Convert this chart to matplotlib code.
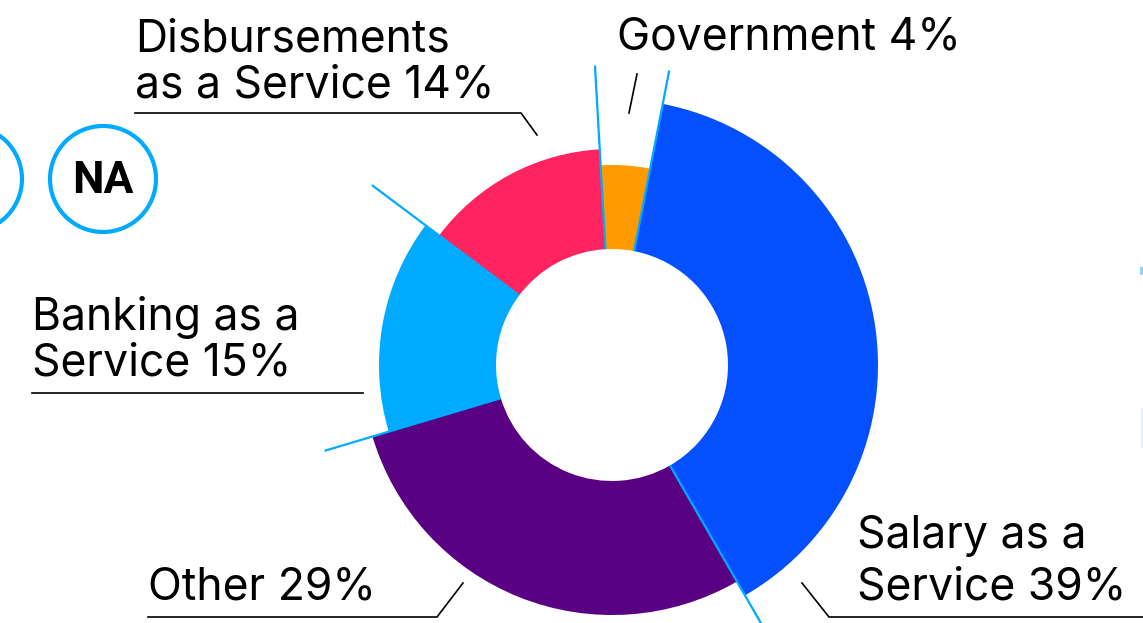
import numpy as np
import matplotlib
matplotlib.use("Agg")
import matplotlib.pyplot as plt
from matplotlib.patches import Circle, Rectangle

# ---- data ----
categories = ["Salary as a Service", "Other", "Banking as a Service",
              "Disbursements as a Service", "Government"]
shares = [39, 29, 15, 14, 4]
labels = ["Salary as a\nService 39%", "Other 29%", "Banking as a\nService 15%",
          "Disbursements\nas a Service 14%", "Government 4%"]
colors = ["#0450FF", "#5A0082", "#00AAFF", "#FF2360", "#FF9A00"]

# ---- layout ----
W, H = 1143, 623
fig = plt.figure(figsize=(W / 100, H / 100), dpi=100)
ax = fig.add_axes([0, 0, 1, 1])
cx, cy = 612, 365
r_inner = 116
r_outer = [266, 250, 233, 216, 200]
start = -79  # screen: 11 deg clockwise from top (y axis inverted)

wedges, _ = ax.pie(shares, colors=colors, center=(cx, cy), radius=1,
                   startangle=start, counterclock=True,
                   wedgeprops=dict(width=0.5, linewidth=0))
for w, r in zip(wedges, r_outer):
    w.set_radius(r)
    w.set_width(r - r_inner)

# separator rays along each boundary
total = sum(shares)
bounds = start + np.cumsum([0] + shares[:-1]) * 360.0 / total
for th in np.deg2rad(bounds):
    ax.plot([cx + r_inner * np.cos(th), cx + 300 * np.cos(th)],
            [cy + r_inner * np.sin(th), cy + 300 * np.sin(th)],
            color="#00AAFF", lw=1.6, solid_capstyle="butt", zorder=5)

ax.set_xlim(0, W)
ax.set_ylim(H, 0)
ax.set_aspect("equal")
ax.axis("off")

font = "Inter"
fs = 32
tk = dict(fontsize=fs, family=font, color="black", va="baseline", ha="left")
# labels
ax.text(857, 548, labels[0].split("\n")[0], **tk)
ax.text(857, 600, labels[0].split("\n")[1], **tk)
ax.text(148, 600, labels[1], **tk)
ax.text(32, 330, labels[2].split("\n")[0], **tk)
ax.text(32, 376, labels[2].split("\n")[1], **tk)
ax.text(135, 52, labels[3].split("\n")[0], **tk)
ax.text(135, 97, labels[3].split("\n")[1], **tk)
ax.text(617, 50, labels[4], **tk)

lk = dict(color="black", lw=1.2, solid_joinstyle="miter")
ax.plot([802, 829, W], [583, 617, 617], **lk)
ax.plot([148, 437, 463], [617, 617, 583], **lk)
ax.plot([32, 363], [393, 393], **lk)
ax.plot([135, 521, 537], [113, 113, 135], **lk)
ax.plot([637, 629], [74, 113], **lk)

# NA badges
for x0 in (-31, 103):
    ax.add_patch(Circle((x0, 179), 53, fill=False, ec="#00AAFF", lw=3.0))
ax.text(103, 181, "NA", fontsize=32, family="Roboto", weight="bold",
        ha="center", va="center", color="black")

# cropped fragments at right edge
ax.add_patch(Rectangle((1140, 267), 3, 8, color="#8fd3ff", lw=0))
ax.add_patch(Rectangle((1141, 408), 2, 40, color="#e3f4ff", lw=0))

fig.savefig("out.png", dpi=100)
